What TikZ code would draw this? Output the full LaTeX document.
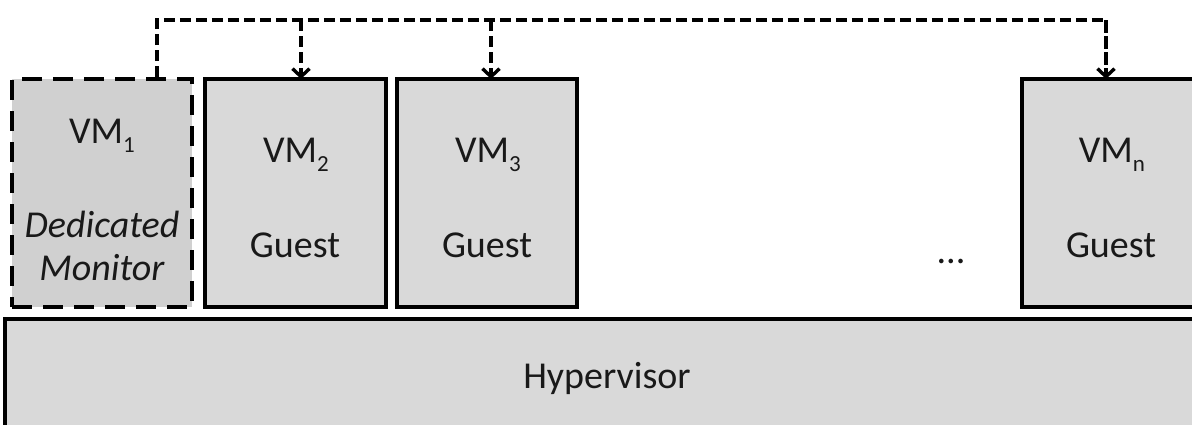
\documentclass[tikz,border=0pt]{standalone}
\usepackage{fontspec}
\setmainfont{Carlito}
\usetikzlibrary{arrows.meta}
\definecolor{boxgray}{HTML}{D9D9D9}
\newcommand\vmsub[1]{\raisebox{-9pt}{\fontsize{23}{23}\selectfont #1}}
\begin{document}
\begin{tikzpicture}[x=1pt,y=-1pt,
  vmbox/.style={draw=black, fill=boxgray, line width=3.8pt, rectangle, inner sep=0pt, minimum height=228pt},
  lbl/.style={font=\fontsize{38}{40}\selectfont, anchor=base, inner sep=0pt, text=black!90},
  link/.style={draw=black, line width=3.4pt, dash pattern=on 11pt off 5pt},
  tip/.style={-{Straight Barb[length=8pt,width=17pt]}}]
\useasboundingbox (0,0) rectangle (1192,424);
\clip (0,0) rectangle (1192,424);
% boxes
\node[vmbox, minimum width=180pt, dash pattern=on 20pt off 11pt, fill=boxgray!96!black] (vm1) at (102,193) {};
\node[vmbox, minimum width=181pt] (vm2) at (295.5,193) {};
\node[vmbox, minimum width=180pt] (vm3) at (487,193) {};
\node[vmbox, minimum width=188pt] (vmn) at (1116,193) {};
\node[vmbox, minimum width=1205pt, minimum height=121pt] (hyp) at (607.5,379.5) {};
% labels
\node[lbl] (t1) at (102,143) {VM\vmsub{1}};
\node[lbl, font=\fontsize{38}{40}\selectfont\itshape] (d1) at (102,237) {Dedicated};
\node[lbl, font=\fontsize{38}{40}\selectfont\itshape] (m1) at (102,280) {Monitor};
\node[lbl] (t2) at (296,162) {VM\vmsub{2}};
\node[lbl] (g2) at (295,257) {Guest};
\node[lbl] (t3) at (488,162) {VM\vmsub{3}};
\node[lbl] (g3) at (487,257) {Guest};
\node[lbl] (tn) at (1112,162) {VM\vmsub{n}};
\node[lbl] (gn) at (1111,257) {Guest};
\node[lbl] (dots) at (951,263) {...};
\node[lbl] (th) at (607,388) {Hypervisor};
% connectors
\coordinate (j1) at (157,20);
\coordinate (jn) at (1106,20);
\coordinate (b2) at (301,20);
\coordinate (b3) at (491,20);
\draw[link, line join=miter] (vm1.north -| j1) -- (j1) -- (jn) -- ([yshift=-1.9pt]vmn.north -| jn);
\draw[link, tip] (jn) -- ([yshift=-1.9pt]vmn.north -| jn);
\draw[link, tip] (b2) -- ([yshift=-1.9pt]vm2.north -| b2);
\draw[link, tip] (b3) -- ([yshift=-1.9pt]vm3.north -| b3);
\end{tikzpicture}
\end{document}
